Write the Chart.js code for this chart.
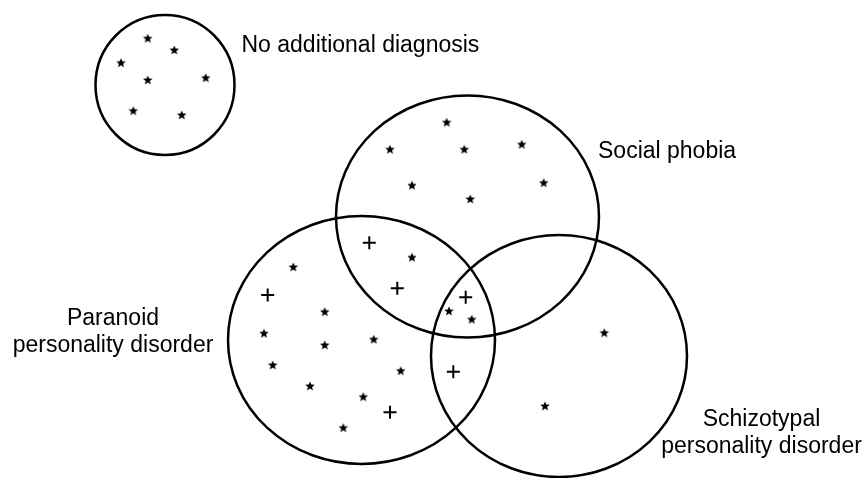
<!DOCTYPE html>
<html>
<head>
<meta charset="utf-8">
<script src="https://cdn.jsdelivr.net/npm/chart.js@4"></script>
<style>
  html, body { margin: 0; padding: 0; background: #ffffff; }
  #wrap { width: 864px; height: 478px; position: relative; }
</style>
</head>
<body>
<div id="wrap"><canvas id="c"></canvas></div>
<script>
// ---- Data (in picture units) ----
const groupNames = ['No additional diagnosis', 'Social phobia', 'Paranoid personality disorder', 'Schizotypal personality disorder'];
const circleCx = [165, 467.5, 361.5, 559];
const circleCy = [85, 216.5, 340, 356];
const circleRx = [69.5, 131.5, 133.5, 128];
const circleRy = [70, 121, 124, 121];

// patients marked with a star
const starX = [147.7, 174.3, 121, 147.7, 205.7, 133.3, 181.7,
               446.7, 390, 464.3, 521.7, 412, 543.7, 470.3,
               412, 449, 471.7,
               293.3, 324.7, 264, 324.7, 373.7, 272.7, 400.7, 310, 363.3, 343.3,
               604.3, 545];
const starY = [38.3, 50, 62.7, 80, 77.7, 110.7, 115,
               122.3, 149.3, 149.3, 144.3, 185.3, 182.7, 199,
               257.3, 311, 319.3,
               267, 311.7, 333.3, 345, 339.3, 365, 370.7, 386, 396.7, 427.7,
               332.7, 406];
// patients marked with a plus
const plusX = [369.3, 397.3, 465.7, 267.7, 390, 453.3];
const plusY = [242.7, 288.3, 297.3, 295, 412.3, 371.7];

// label lines for each group
const labelLines = [['No additional diagnosis'], ['Social phobia'], ['Paranoid', 'personality disorder'], ['Schizotypal', 'personality disorder']];
const labelAnchorX = [241.5, 598, 113, 761.5];
const labelAnchorY = [52, 158, 324.5, 426];
const labelAlign = ['left', 'left', 'center', 'center'];

// ---- marker glyph: small filled five-pointed star ----
function makeStar(outer, inner) {
  const size = Math.ceil(outer * 2 + 2);
  const c = document.createElement('canvas');
  c.width = size; c.height = size;
  const g = c.getContext('2d');
  g.fillStyle = '#000';
  g.beginPath();
  for (let i = 0; i < 10; i++) {
    const r = i % 2 === 0 ? outer : inner;
    const a = -Math.PI / 2 + i * Math.PI / 5;
    const px = size / 2 + r * Math.cos(a);
    const py = size / 2 + r * Math.sin(a) + 0.4;
    if (i === 0) g.moveTo(px, py); else g.lineTo(px, py);
  }
  g.closePath();
  g.fill();
  return c;
}
const starImg = makeStar(5, 2.2);

const ellipsePlugin = {
  id: 'venn',
  beforeDatasetsDraw(chart) {
    const { ctx, scales } = chart;
    const xs = scales.x, ys = scales.y;
    ctx.save();
    ctx.strokeStyle = '#000';
    ctx.lineWidth = 2.5;
    for (let i = 0; i < circleCx.length; i++) {
      const cx = xs.getPixelForValue(circleCx[i]);
      const cy = ys.getPixelForValue(circleCy[i]);
      const rx = Math.abs(xs.getPixelForValue(circleCx[i] + circleRx[i]) - cx);
      const ry = Math.abs(ys.getPixelForValue(circleCy[i] + circleRy[i]) - cy);
      ctx.beginPath();
      ctx.ellipse(cx, cy, rx, ry, 0, 0, Math.PI * 2);
      ctx.stroke();
    }
    ctx.fillStyle = '#000';
    ctx.font = '23px "Liberation Sans", Arial, sans-serif';
    ctx.textBaseline = 'alphabetic';
    for (let i = 0; i < labelLines.length; i++) {
      ctx.textAlign = labelAlign[i];
      const x = xs.getPixelForValue(labelAnchorX[i]);
      labelLines[i].forEach((line, j) => {
        const y = ys.getPixelForValue(labelAnchorY[i] + j * 27);
        ctx.fillText(line, x, y);
      });
    }
    ctx.restore();
  }
};

new Chart(document.getElementById('c'), {
  type: 'scatter',
  data: {
    datasets: [
      {
        label: 'star',
        data: starX.map((x, i) => ({ x, y: starY[i] })),
        pointStyle: starImg,
        pointRadius: 5,
        pointHoverRadius: 5
      },
      {
        label: 'plus',
        data: plusX.map((x, i) => ({ x, y: plusY[i] })),
        pointStyle: 'cross',
        pointRadius: 6.5,
        pointHoverRadius: 6.5,
        borderColor: '#000',
        borderWidth: 2,
        pointBorderWidth: 2
      }
    ]
  },
  options: {
    responsive: true,
    maintainAspectRatio: false,
    animation: false,
    layout: { padding: 0, autoPadding: false },
    plugins: { legend: { display: false }, tooltip: { enabled: false } },
    events: [],
    scales: {
      x: { type: 'linear', min: 0, max: 864, display: false },
      y: { type: 'linear', min: 0, max: 478, reverse: true, display: false }
    }
  },
  plugins: [ellipsePlugin]
});
</script>
</body>
</html>
